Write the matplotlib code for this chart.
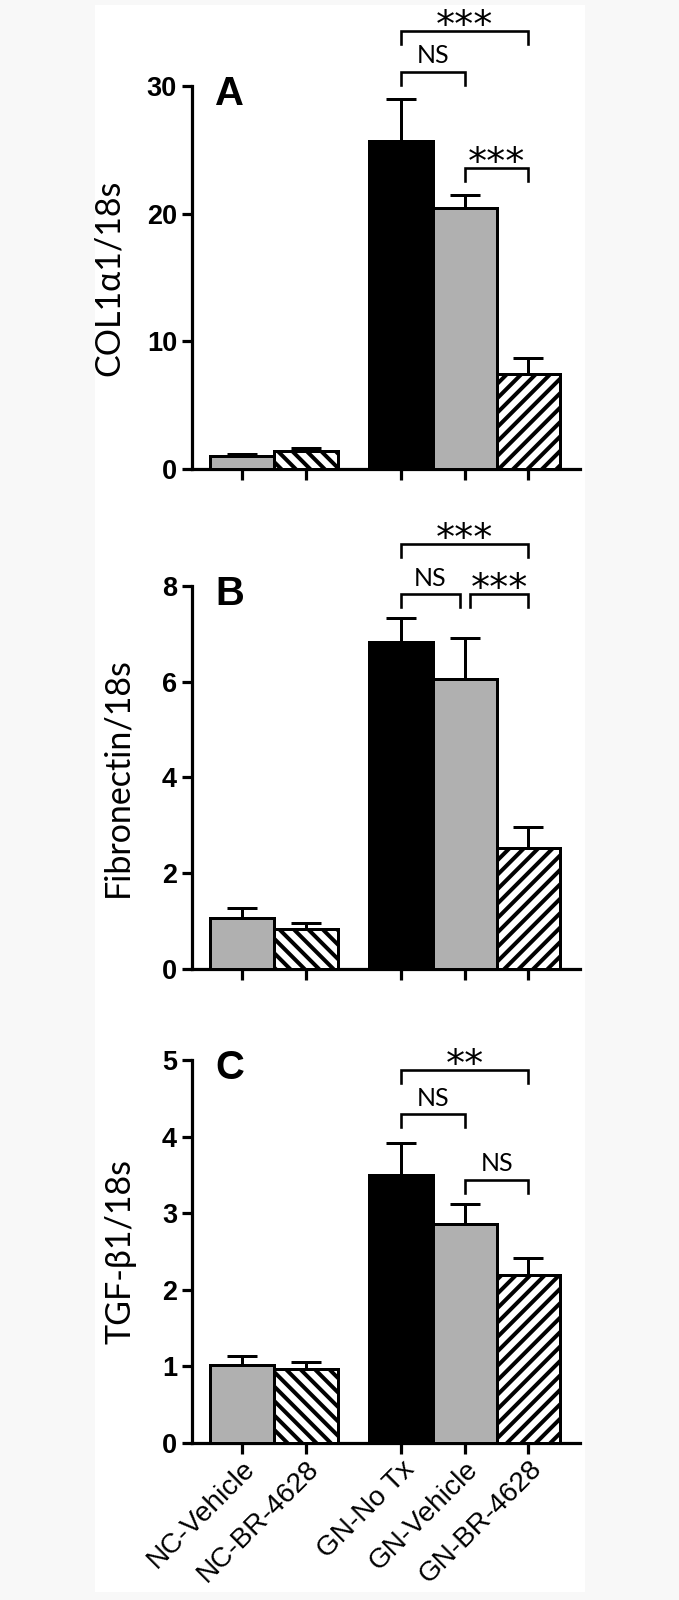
import numpy as np
import matplotlib
matplotlib.use('Agg')
import matplotlib.pyplot as plt
from matplotlib.patches import Rectangle

# everything sized in pixels, then converted to points
DPI = 130
def pt(px):
    return px * 72.0 / DPI

groups = ['NC-Vehicle', 'NC-BR-4628', 'GN-No Tx', 'GN-Vehicle', 'GN-BR-4628']
xpos = [0, 1, 2.5, 3.5, 4.5]

col_mean = [1.0, 1.4, 25.7, 20.4, 7.45]
col_err = [0.15, 0.25, 3.3, 1.05, 1.25]
fn_mean = [1.07, 0.83, 6.83, 6.06, 2.53]
fn_err = [0.21, 0.13, 0.49, 0.85, 0.43]
tgf_mean = [1.02, 0.96, 3.5, 2.86, 2.19]
tgf_err = [0.11, 0.10, 0.42, 0.26, 0.22]

# (x from, x to, bracket height, label)
col_sig = [(2.5, 4.5, 34.3, '***'), (2.5, 3.5, 31.1, 'NS'), (3.5, 4.5, 23.6, '***')]
fn_sig = [(2.5, 4.5, 8.88, '***'), (2.5, 3.42, 7.83, 'NS'), (3.58, 4.5, 7.83, '***')]
tgf_sig = [(2.5, 4.5, 4.87, '**'), (2.5, 3.5, 4.29, 'NS'), (3.5, 4.5, 3.44, 'NS')]

fills = ['#b0b0b0', 'white', 'black', '#b0b0b0', 'white']
hatches = [None, '\\\\\\', None, None, '///']

plt.rcParams['hatch.linewidth'] = pt(4)
plt.rcParams['axes.linewidth'] = pt(3.2)

fig = plt.figure(figsize=(679 / DPI, 1600 / DPI), dpi=DPI, facecolor='#f8f8f8')
fig.patches.append(Rectangle((95 / 679, 8 / 1600), 490 / 679, 1587 / 1600,
                             transform=fig.transFigure, facecolor='white',
                             edgecolor='none', zorder=-5))

panels = [
    ('A', 'COL1α1/18s', col_mean, col_err, col_sig, 30, [0, 10, 20, 30], 0.7069, -0.172),
    ('B', 'Fibronectin/18s', fn_mean, fn_err, fn_sig, 8, [0, 2, 4, 6, 8], 0.3944, -0.150),
    ('C', 'TGF-β1/18s', tgf_mean, tgf_err, tgf_sig, 5, [0, 1, 2, 3, 4, 5], 0.0981, -0.142),
]

for i, (letter, ylab, mean, err, sig, ymax, yt, bottom, labx) in enumerate(panels):
    ax = fig.add_axes([0.2828, bottom, 0.5714, 0.2394])
    ax.set_facecolor('none')
    bars = ax.bar(xpos, mean, width=1.0, color=fills, edgecolor='black',
                  linewidth=pt(3), zorder=3)
    for b, h in zip(bars, hatches):
        if h:
            b.set_hatch(h)
    ax.errorbar(xpos, mean, yerr=[np.zeros(len(err)), err], fmt='none',
                ecolor='black', elinewidth=pt(3), capsize=pt(15),
                capthick=pt(3), zorder=2)

    ax.set_xlim(-0.79, 5.31)
    ax.set_ylim(0, ymax)
    ax.spines['top'].set_visible(False)
    ax.spines['right'].set_visible(False)
    ax.set_yticks(yt)
    ax.set_yticklabels([str(t) for t in yt], fontsize=pt(27), fontweight='bold',
                       family='Liberation Sans')
    ax.tick_params(axis='y', length=pt(10), width=pt(3.2), pad=pt(5))
    ax.tick_params(axis='x', length=pt(11), width=pt(3.2), pad=pt(2))
    ax.set_xticks(xpos)
    if i == 2:
        ax.set_xticklabels(groups, rotation=45, ha='right', rotation_mode='anchor',
                           fontsize=pt(28), family='Liberation Sans')
    else:
        ax.set_xticklabels([])

    ax.set_ylabel(ylab, fontsize=pt(34), family=['Lato', 'DejaVu Sans'])
    ax.yaxis.set_label_coords(labx, 0.5)

    ax.text(0.06, 0.98, letter, transform=ax.transAxes, fontsize=pt(40),
            fontweight='bold', family='Liberation Sans', ha='left', va='center')

    tip = ymax * 13 / 383
    for x1, x2, y, lab in sig:
        ax.plot([x1, x1, x2, x2], [y - tip, y, y, y - tip], color='black',
                lw=pt(2.6), clip_on=False, solid_joinstyle='miter')
        if lab == 'NS':
            ax.annotate(lab, xy=((x1 + x2) / 2, y), xytext=(0, pt(16)),
                        textcoords='offset points', ha='center', va='center',
                        fontsize=pt(25), family='Lato', annotation_clip=False)
        else:
            ax.annotate(lab, xy=((x1 + x2) / 2, y), xytext=(0, pt(-6)),
                        textcoords='offset points', ha='center', va='baseline',
                        fontsize=pt(38), family='DejaVu Sans', annotation_clip=False)

fig.savefig('out.png', dpi=DPI, facecolor=fig.get_facecolor())
